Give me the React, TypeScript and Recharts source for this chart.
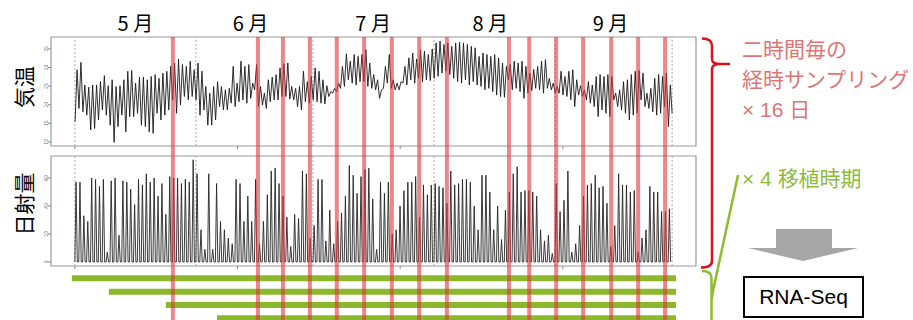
import React from 'react';
import { ComposedChart, LineChart, Line, XAxis, YAxis, ReferenceLine, ReferenceArea, BarChart, Bar } from 'recharts';

// ---- data ----
// daily maximum / minimum air temperature (°C), May 1 .. Sep 30
const tMax = [
  29.4, 31.4, 25.3, 24.7, 25.3, 25.3, 26.2, 27.8, 25.1, 26.7, 24.9, 25.1,
  26.7, 29.0, 29.2, 25.8, 27.4, 27.4, 26.7, 27.6, 28.1, 27.1, 28.5, 29.0,
  30.3, 31.2, 32.3, 30.8, 30.3, 31.7, 29.4, 31.2,
  29.0, 24.9, 23.1, 24.9, 26.2, 24.9, 24.0, 24.4,
  30.3, 25.8, 31.7, 30.3, 30.8, 25.8, 30.8, 24.9,
  23.1, 26.7, 27.4, 28.1, 29.9, 31.0, 31.2, 24.9,
  24.4, 24.9, 29.0, 26.2, 27.6, 29.9, 29.0, 26.7, 25.1,
  23.5, 24.4, 25.8, 30.3, 33.7, 31.7, 33.5, 33.0,
  33.5, 34.8, 31.2, 28.1, 26.7, 24.0, 30.3, 33.5,
  26.7, 25.8, 26.2,
  30.3, 32.6, 33.9, 32.3, 34.8, 34.4, 33.5, 35.0,
  36.6, 37.1, 36.2, 36.6, 35.7, 36.6, 36.8, 36.6, 36.2, 35.7, 35.3,
  33.0, 33.9, 33.5, 33.0, 33.5, 32.6, 31.2, 30.3,
  30.8, 31.7, 31.2, 31.7, 30.3, 28.5, 29.5, 30.3, 31.7, 32.1, 27.1,
  25.8, 24.9, 29.0, 27.6, 29.0, 29.4, 26.7, 25.1,
  24.0, 26.2, 25.3, 27.6, 28.1, 27.6, 28.1, 27.6,
  23.1, 24.0, 26.2, 26.7, 28.1, 29.0, 29.2, 28.5, 23.1,
  24.4, 27.1, 28.1, 27.6, 28.5, 25.3,
];
const tMin = [
  15.4, 19.0, 18.1, 17.2, 13.2, 13.6, 15.9, 18.6, 17.2, 14.5, 9.9, 14.1,
  17.2, 12.7, 16.8, 16.8, 17.7, 14.5, 14.1, 12.7, 12.3, 17.7, 15.9, 17.2,
  18.6, 21.3, 17.7, 19.9, 22.2, 21.3, 22.2, 21.3,
  17.2, 18.6, 14.5, 14.5, 15.9, 19.5, 18.6, 18.6,
  20.4, 19.5, 20.8, 21.3, 20.4, 21.7, 24.0, 19.5,
  19.9, 19.0, 20.8, 21.3, 21.3, 22.2, 22.2, 21.5,
  21.3, 19.5, 18.6, 20.8, 20.4, 21.3, 20.8, 20.4, 20.2,
  22.2, 23.1, 23.5, 24.4, 24.9, 26.7, 25.8, 25.3,
  26.2, 26.2, 24.9, 24.4, 24.0, 21.7, 24.4, 25.8,
  24.4, 24.0, 24.0,
  25.8, 25.3, 26.7, 25.8, 27.1, 26.2, 26.7, 26.5,
  27.1, 27.6, 28.5, 29.0, 28.1, 27.1, 26.2, 25.8, 26.7, 25.3, 26.2,
  25.3, 24.9, 24.0, 24.4, 23.5, 22.6, 22.2, 22.0,
  26.7, 24.0, 24.4, 23.5, 21.7, 23.1, 23.8, 24.4, 24.0, 23.1, 24.4,
  24.0, 23.1, 23.1, 22.6, 22.2, 21.3, 19.5, 22.6,
  22.2, 21.3, 20.4, 19.5, 16.8, 18.6, 17.7, 16.8,
  21.3, 19.5, 18.6, 17.7, 15.9, 17.2, 17.7, 21.3, 19.5,
  19.0, 18.1, 17.2, 17.7, 19.5, 14.1,
];
const tLast = 17.7;

// daily peak of solar radiation
const radPeak = [
  57, 57, 33, 29, 60, 59, 54, 59, 7, 58, 60, 19, 58, 57, 52, 41, 59, 55, 63, 57,
  60, 47, 56, 34, 61, 60, 60, 56, 59, 57, 73, 63, 23, 9, 63, 9, 56, 29, 23, 17,
  13, 59, 56, 29, 47, 29, 59, 13, 29, 48, 65, 67, 56, 47, 32, 11, 34, 31, 65, 63,
  17, 26, 59, 59, 15, 37, 13, 29, 35, 47, 69, 62, 49,
  61, 66, 67, 45, 9, 57, 49, 57, 20, 23, 40, 51, 57, 57, 61, 32, 55, 48, 55, 56,
  54, 53, 42, 65, 55, 56, 59, 59, 57, 40, 23, 62, 62, 50, 23, 40, 16, 37, 50, 63,
  68, 50, 51, 51, 50, 47, 23, 15, 19, 6, 56, 36, 44, 65, 7, 13, 26, 47, 55, 56,
  62, 53, 54, 42, 11, 26, 63, 55, 55, 50, 51, 7, 17, 23, 54, 50, 50, 36, 36, 38,
];

const monthLabels = ['5 月', '6 月', '7 月', '8 月', '9 月'];
const monthMidDays = [15.5, 45, 76.4, 106.4, 137.2];
const monthStartDays = [0, 31, 61, 92, 123, 153];
const axisTickDays = [0, 41.667, 83.333, 125];
const sampleDays = [25.1, 46.9, 53.3, 60.2, 67.1, 74.1, 81.2, 88.2, 95.3, 111.2, 116.4, 123.3, 130.2, 137.4, 144.3, 151.2];
const transplantNames = ['第1期', '第2期', '第3期', '第4期'];
const transplantStart = [-0.77, 8.7, 23.3, 36.4];
const transplantEnd = [154, 154, 154, 154];
const tempTicks = [10, 15, 20, 25, 30, 35];
const radTicks = [0, 20, 40, 60];

const X_DOMAIN: [number, number] = [-6.12, 159.12];
const TEMP_DOMAIN: [number, number] = [8.9, 38.2];
const RAD_DOMAIN: [number, number] = [-2.9, 75.7];

// ---- tables built from arrays ----
const tempData: { t: number; v: number }[] = [];
tMin.forEach((v, i) => {
  tempData.push({ t: i + 0.05, v });
  tempData.push({ t: i + 0.55, v: tMax[i] });
});
tempData.push({ t: 153, v: tLast });

const radData: { t: number; v: number }[] = [{ t: 0, v: 0 }];
radPeak.forEach((p, i) => {
  radData.push({ t: i + 0.0, v: 0 });
  radData.push({ t: i + 0.3, v: p });
  radData.push({ t: i + 0.62, v: 0 });
});

const transplantData = transplantNames.map((name, i) => ({ name, range: [transplantStart[i], transplantEnd[i]] }));
const sampleData = sampleDays.map((t) => ({ t, y: 0.5 }));

// ---- small renderers ----
const EmptyTick = () => <g />;
const SmallTick = (props: any) => {
  const { x, y, payload } = props;
  return (
    <text x={x} y={y} transform={`rotate(-90 ${x} ${y})`} textAnchor="middle" fontSize={5} fill="#666">
      {payload.value}
    </text>
  );
};
const MonthTick = (props: any) => {
  const { x, payload } = props;
  const idx = monthMidDays.indexOf(payload.value);
  return (
    <text x={x} y={31} textAnchor="middle" fontSize={20} fill="#000">
      {monthLabels[idx]}
    </text>
  );
};

const abs: React.CSSProperties = { position: 'absolute', left: 0, top: 0, pointerEvents: 'none' };
const latin = '"Liberation Sans", Arial, sans-serif';

export default function App() {
  return (
    <div
      style={{
        position: 'fixed', left: 0, top: 0, width: 913, height: 320, overflow: 'hidden', background: '#fff',
        fontFamily: '"Noto Sans CJK JP", "Noto Sans", sans-serif',
      }}
    >
      {/* temperature panel */}
      <div style={abs}>
        <LineChart width={913} height={320} data={tempData} margin={{ top: 37, right: 217, bottom: 164, left: 21 }}>
          <XAxis dataKey="t" type="number" domain={X_DOMAIN} allowDataOverflow ticks={axisTickDays} interval={0}
            height={10} axisLine={false} tickLine={{ stroke: '#888' }} tickSize={3} tick={<EmptyTick />} />
          <YAxis type="number" domain={TEMP_DOMAIN} allowDataOverflow ticks={tempTicks} interval={0} width={30}
            axisLine={false} tickLine={{ stroke: '#888' }} tickSize={3} tickMargin={0} tick={<SmallTick />} />
          {monthStartDays.map((d) => (
            <ReferenceLine key={d} x={d} stroke="#aaa" strokeDasharray="2 2" />
          ))}
          <ReferenceArea x1={X_DOMAIN[0]} x2={X_DOMAIN[1]} y1={TEMP_DOMAIN[0]} y2={TEMP_DOMAIN[1]}
            fill="none" fillOpacity={0} stroke="#9a9a9a" strokeWidth={1.2} />
          <Line dataKey="v" type="linear" stroke="#1a1a1a" strokeWidth={0.9} dot={false} isAnimationActive={false} />
        </LineChart>
      </div>

      {/* radiation panel */}
      <div style={abs}>
        <LineChart width={913} height={320} data={radData} margin={{ top: 156, right: 217, bottom: 44, left: 21 }}>
          <XAxis dataKey="t" type="number" domain={X_DOMAIN} allowDataOverflow ticks={axisTickDays} interval={0}
            height={10} axisLine={false} tickLine={{ stroke: '#888' }} tickSize={3} tick={<EmptyTick />} />
          <YAxis type="number" domain={RAD_DOMAIN} allowDataOverflow ticks={radTicks} interval={0} width={30}
            axisLine={false} tickLine={{ stroke: '#888' }} tickSize={3} tickMargin={0} tick={<SmallTick />} />
          {monthStartDays.map((d) => (
            <ReferenceLine key={d} x={d} stroke="#aaa" strokeDasharray="2 2" />
          ))}
          <ReferenceArea x1={X_DOMAIN[0]} x2={X_DOMAIN[1]} y1={RAD_DOMAIN[0]} y2={RAD_DOMAIN[1]}
            fill="none" fillOpacity={0} stroke="#9a9a9a" strokeWidth={1.2} />
          <Line dataKey="v" type="linear" stroke="#262626" strokeWidth={0.9} dot={false} isAnimationActive={false} />
        </LineChart>
      </div>

      {/* transplant periods (green bars) */}
      <div style={abs}>
        <BarChart layout="vertical" width={913} height={330} data={transplantData}
          margin={{ top: 271.3, right: 217, bottom: 5.3, left: 51 }} barCategoryGap={0}>
          <XAxis type="number" domain={X_DOMAIN} allowDataOverflow hide />
          <YAxis type="category" dataKey="name" hide />
          <Bar dataKey="range" fill="#8cb82c" barSize={6} isAnimationActive={false} />
        </BarChart>
      </div>

      {/* sampling days (red lines) and month labels */}
      <div style={abs}>
        <ComposedChart width={913} height={330} data={sampleData} margin={{ top: 0, right: 217, bottom: 0, left: 51 }}>
          <XAxis orientation="top" type="number" dataKey="t" domain={X_DOMAIN} allowDataOverflow ticks={monthMidDays}
            interval={0} height={37} axisLine={false} tickLine={false} tick={<MonthTick />} />
          <YAxis hide type="number" domain={[0, 1]} allowDataOverflow dataKey="y" />
          <Line dataKey="y" stroke="none" dot={false} isAnimationActive={false} />
          {sampleDays.map((d) => (
            <ReferenceLine key={d} x={d} stroke="#e0353a" strokeOpacity={0.6} strokeWidth={4} ifOverflow="visible" />
          ))}
        </ComposedChart>
      </div>

      {/* annotations */}
      <svg width={913} height={320} style={abs}>
        <text x={23} y={87} transform="rotate(-90 23 87)" textAnchor="middle" dominantBaseline="central" fontSize={21} fill="#000">気温</text>
        <text x={23} y={204} transform="rotate(-90 23 204)" textAnchor="middle" dominantBaseline="central" fontSize={21} fill="#000">日射量</text>

        <path d="M702,38.5 Q712,38.5 712,46 L712,59 Q712,64 720,64 L730,64 M720,64 Q712,64 712,69 L712,261 Q712,267.5 701,267.5"
          fill="none" stroke="#d9141c" strokeWidth={2.5} />
        <path d="M702,271 Q711.5,271 711.5,278 L711.5,322 M711.5,300 Q713,289 716,277 L738,175"
          fill="none" stroke="#8cbd2f" strokeWidth={2.5} />

        <text x={742} y={57} fontSize={21} fill="#e07575">二時間毎の</text>
        <text x={742} y={87} fontSize={21} fill="#e07575">経時サンプリング</text>
        <text x={742} y={117} fontSize={21} fill="#e07575">
          <tspan fontFamily={latin}>× 16 </tspan>日
        </text>
        <text x={742} y={186} fontSize={21} fill="#8dbb3e">
          <tspan fontFamily={latin}>× 4 </tspan>移植時期
        </text>

        <polygon points="776,229 832,229 832,248 858,248 803,261 748,248 776,248" fill="#a6a6a6" />
        <rect x={744} y={277} width={119} height={40} fill="#fff" stroke="#000" strokeWidth={2} />
        <text x={803.5} y={304} textAnchor="middle" fontSize={21} fill="#000" fontFamily={latin}>RNA-Seq</text>
      </svg>
    </div>
  );
}
